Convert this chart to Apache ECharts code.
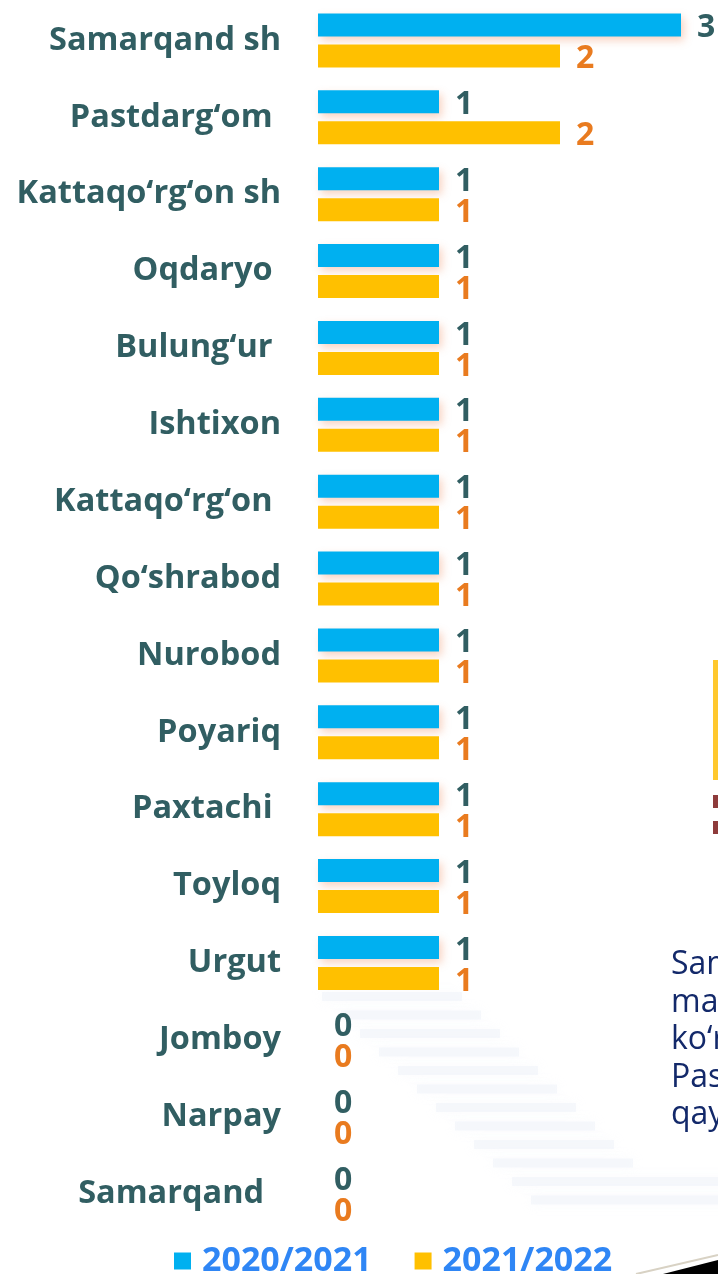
<!DOCTYPE html>
<html>
<head>
<meta charset="utf-8">
<script src="https://cdn.jsdelivr.net/npm/echarts@6/dist/echarts.min.js"></script>
<style>
  html, body { margin: 0; padding: 0; background: #fff; }
  #chart { width: 718px; height: 1274px; }
</style>
</head>
<body>
<div id="chart"></div>
<script>
// tumanlar / shaharlar (asl slayddagi oxirgi bo'shliqlar saqlangan)
const districts = [
  'Samarqand sh', 'Pastdarg‘om ', 'Kattaqo‘rg‘on sh', 'Oqdaryo ', 'Bulung‘ur ',
  'Ishtixon', 'Kattaqo‘rg‘on ', 'Qo‘shrabod', 'Nurobod', 'Poyariq',
  'Paxtachi ', 'Toyloq', 'Urgut', 'Jomboy', 'Narpay', 'Samarqand  '
]
const values2020 = [3, 1, 1, 1, 1, 1, 1, 1, 1, 1, 1, 1, 1, 0, 0, 0]
const values2021 = [2, 2, 1, 1, 1, 1, 1, 1, 1, 1, 1, 1, 1, 0, 0, 0]
const seriesNames = ['2020/2021', '2021/2022']

// slaydning o'ng tomonidagi qirqilgan matn
const sideText = ['Samarqand', 'maktablar', 'ko‘rsatkichi', 'Pastdarg‘om', 'qayd etilgan']

const FONT = '"Open Sans", "DejaVu Sans", sans-serif'
const chart = echarts.init(document.getElementById('chart'))

// diagonal soya chiziqlari (bezak)
const stripes = []
for (let i = 0; i < 12; i++) {
  stripes.push({
    type: 'rect',
    shape: { x: 322 + i * 19, y: 992 + i * 18.5, width: 140 + (i > 9 ? 200 : 0), height: 9 },
    style: { fill: 'rgba(230,236,245,0.3)', shadowBlur: 12, shadowColor: 'rgba(228,234,244,0.6)' },
    silent: true,
    z: 0
  })
}

const option = {
  animation: false,
  backgroundColor: '#fff',
  grid: { left: 318, right: 37, top: 2, bottom: 42, containLabel: false },
  legend: {
    data: seriesNames,
    left: 169,
    top: 1239,
    icon: 'rect',
    itemWidth: 17,
    itemHeight: 17,
    itemGap: 43,
    textStyle: {
      fontFamily: FONT, fontWeight: 'bold', fontSize: 34, color: '#2F86F5',
      padding: [0, 0, 0, 6]
    }
  },
  xAxis: {
    type: 'value',
    min: 0,
    max: 3,
    show: false
  },
  yAxis: {
    type: 'category',
    inverse: true,
    data: districts,
    axisLine: { show: false },
    axisTick: { show: false },
    axisLabel: {
      margin: 37,
      fontFamily: FONT,
      fontWeight: 'bold',
      fontSize: 32.5,
      color: '#315E62',
      padding: [4, 0, 0, 0]
    }
  },
  series: [
    {
      name: seriesNames[0],
      type: 'bar',
      data: values2020,
      barWidth: 23,
      barGap: '35%',
      itemStyle: {
        color: '#00B0F0',
        shadowColor: 'rgba(235,130,80,0.35)',
        shadowBlur: 8,
        shadowOffsetX: 3,
        shadowOffsetY: 4
      },
      label: {
        show: true,
        position: 'right',
        distance: 16,
        offset: [0, 3],
        fontFamily: FONT,
        fontWeight: 'bold',
        fontSize: 32,
        color: '#315E62'
      },
      z: 3
    },
    {
      name: seriesNames[1],
      type: 'bar',
      data: values2021,
      barWidth: 23,
      itemStyle: { color: '#FFC000' },
      label: {
        show: true,
        position: 'right',
        distance: 16,
        offset: [0, 3],
        fontFamily: FONT,
        fontWeight: 'bold',
        fontSize: 32,
        color: '#E97B1F'
      },
      z: 3
    }
  ],
  graphic: [
    ...stripes,
    { type: 'rect', shape: { x: 713, y: 660, width: 6, height: 120 }, style: { fill: '#FFC82E' }, silent: true },
    { type: 'rect', shape: { x: 713, y: 795, width: 6, height: 13 }, style: { fill: '#8E3B3B' }, silent: true },
    { type: 'rect', shape: { x: 713, y: 821, width: 6, height: 13 }, style: { fill: '#8E3B3B' }, silent: true },
    ...sideText.map((t, i) => ({
      type: 'text',
      x: 671,
      y: 949 + i * 37.5,
      silent: true,
      style: { text: t, fontFamily: FONT, fontSize: 32, fill: '#13296A' }
    })),
    {
      type: 'polygon',
      shape: { points: [[663, 1274], [718, 1260], [718, 1274]] },
      style: { fill: '#000' },
      silent: true
    },
    {
      type: 'polyline',
      shape: { points: [[636, 1274], [718, 1255]] },
      style: { stroke: '#D8D2C4', lineWidth: 2 },
      silent: true
    }
  ]
}

chart.setOption(option)
</script>
</body>
</html>
